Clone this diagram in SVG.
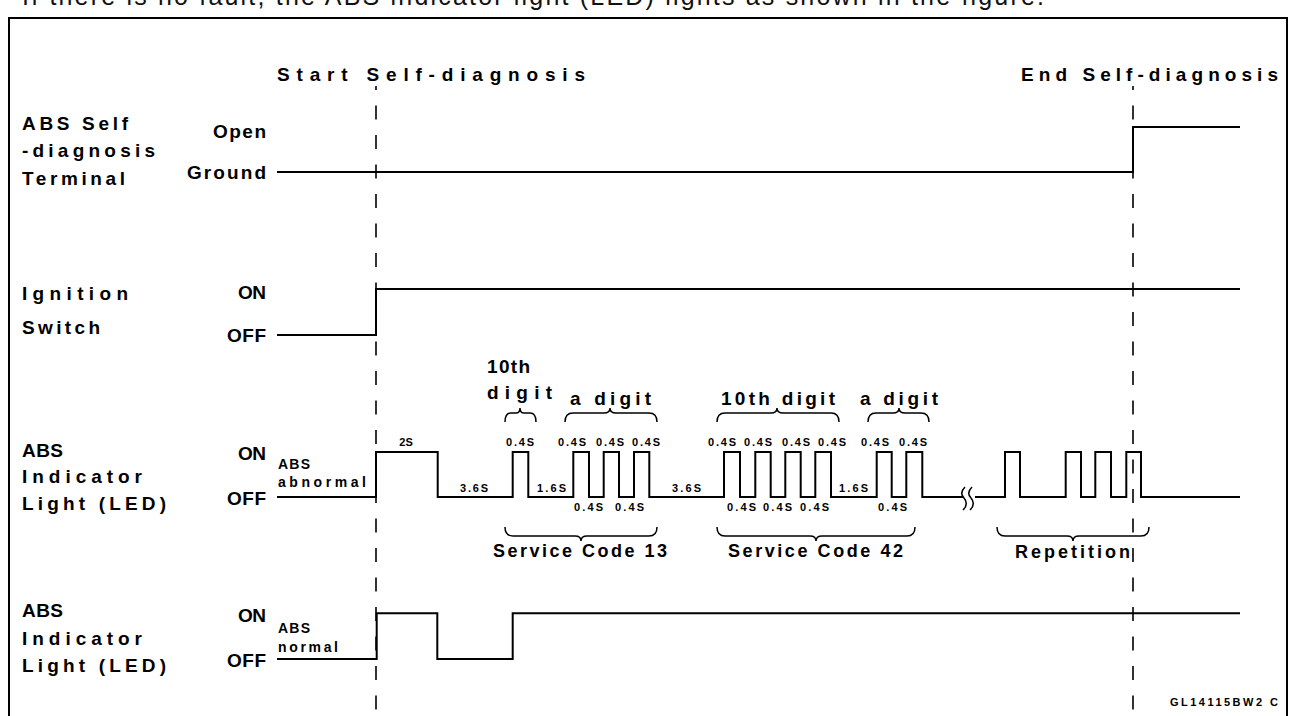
<svg xmlns="http://www.w3.org/2000/svg" width="1290" height="716" viewBox="0 0 1290 716">
<style>
text{font-family:"Liberation Sans",Arial,sans-serif;fill:#000;font-weight:bold}
.lbl{font-size:19px}
.sm{font-size:14px}
.xs{font-size:11px}
.mid{font-size:18px}
.cap{font-size:25px;font-weight:normal;fill:#111}
.sig{fill:none;stroke:#000;stroke-width:2}
.dash{fill:none;stroke:#000;stroke-width:1.6;stroke-dasharray:14 15.5;stroke-dashoffset:10}
.brace{fill:none;stroke:#000;stroke-width:1.5}
</style>
<rect width="1290" height="716" fill="#fff"/>
<text class="cap" x="22" y="5" textLength="1022">If there is no fault, the ABS indicator light (LED) lights as shown in the figure.</text>
<rect x="9" y="18" width="1278" height="720" fill="none" stroke="#000" stroke-width="2"/>

<g id="markers">
<text class="lbl" x="277" y="81" textLength="308">Start Self-diagnosis</text>
<text class="lbl" x="1021" y="81" textLength="257">End Self-diagnosis</text>
<text x="1170" y="706" font-size="11px" textLength="108">GL14115BW2 C</text>
</g>

<g id="connectors">
<line class="dash" x1="376" y1="86" x2="376" y2="716"/>
<line class="dash" x1="1133" y1="86" x2="1133" y2="716"/>
</g>

<g id="row-terminal">
<text class="lbl" x="22" y="130" textLength="106">ABS Self</text>
<text class="lbl" x="22" y="157" textLength="133">-diagnosis</text>
<text class="lbl" x="22" y="185" textLength="103">Terminal</text>
<text class="lbl" x="213" y="138" textLength="53">Open</text>
<text class="lbl" x="187" y="179" textLength="79">Ground</text>
<path class="sig" d="M277,172 H1133 V127 H1240"/>
</g>

<g id="row-ignition">
<text class="lbl" x="22" y="300" textLength="106">Ignition</text>
<text class="lbl" x="22" y="334" textLength="78">Switch</text>
<text class="lbl" x="238" y="299" textLength="28">ON</text>
<text class="lbl" x="227" y="342" textLength="39">OFF</text>
<path class="sig" d="M277,335 H376 V289 H1240"/>
</g>

<g id="row-abnormal">
<text class="lbl" x="22" y="457" textLength="41">ABS</text>
<text class="lbl" x="22" y="483" textLength="120">Indicator</text>
<text class="lbl" x="22" y="510" textLength="144">Light (LED)</text>
<text class="lbl" x="238" y="460" textLength="28">ON</text>
<text class="lbl" x="227" y="505" textLength="39">OFF</text>
<text class="sm" x="278" y="469" textLength="32">ABS</text>
<text class="sm" x="278" y="487" textLength="88">abnormal</text>
<path class="sig" d="M277,497 H376 V452 H437.7 V497 H512.7 V452 H528.3 V497 H573.3 V452 H589 V497 H603.7 V452 H619 V497 H634 V452 H649.3 V497 H724 V452 H740 V497 H755.3 V452 H770.7 V497 H785.3 V452 H800.7 V497 H815.3 V452 H831 V497 H876.7 V452 H891.7 V497 H906.3 V452 H922.3 V497 H963"/>
<path class="sig" d="M975,497 H1005 V452 H1020 V497 H1065.7 V452 H1081 V497 H1095.3 V452 H1111 V497 H1126.3 V452 H1141 V497 H1240"/>
<path class="brace" d="M965,487 Q959,493 964,498 Q969,504 963,510 M972,487 Q966,493 971,498 Q976,504 970,510"/>
<g id="timing">
<text class="xs" x="406" y="446" text-anchor="middle">2S</text>
<text class="xs" x="506" y="446" textLength="28">0.4S</text>
<text class="xs" x="558" y="446" textLength="28">0.4S</text>
<text class="xs" x="596" y="446" textLength="28">0.4S</text>
<text class="xs" x="632" y="446" textLength="28">0.4S</text>
<text class="xs" x="708" y="446" textLength="28">0.4S</text>
<text class="xs" x="744" y="446" textLength="28">0.4S</text>
<text class="xs" x="782" y="446" textLength="28">0.4S</text>
<text class="xs" x="818" y="446" textLength="28">0.4S</text>
<text class="xs" x="861" y="446" textLength="28">0.4S</text>
<text class="xs" x="899" y="446" textLength="28">0.4S</text>
<text class="xs" x="460" y="492" textLength="28">3.6S</text>
<text class="xs" x="537" y="492" textLength="29">1.6S</text>
<text class="xs" x="672" y="492" textLength="29">3.6S</text>
<text class="xs" x="839" y="492" textLength="29">1.6S</text>
<text class="xs" x="574" y="511" textLength="29">0.4S</text>
<text class="xs" x="615" y="511" textLength="29">0.4S</text>
<text class="xs" x="727" y="511" textLength="29">0.4S</text>
<text class="xs" x="763" y="511" textLength="29">0.4S</text>
<text class="xs" x="800" y="511" textLength="29">0.4S</text>
<text class="xs" x="878" y="511" textLength="29">0.4S</text>
</g>
<g id="digit-braces">
<text class="lbl" x="487" y="373" textLength="43">10th</text>
<text class="lbl" x="487" y="399" textLength="65">digit</text>
<text class="lbl" x="570" y="405" textLength="81">a digit</text>
<text class="lbl" x="721" y="405" textLength="114">10th digit</text>
<text class="lbl" x="860" y="405" textLength="78">a digit</text>
<path class="brace" d="M505,422 Q505,413 511,413 L516,413 Q520,413 520,408 Q520,413 524,413 L530,413 Q536,413 536,422"/>
<path class="brace" d="M565,422 Q565,413 573,413 L604,413 Q610,413 610,408 Q610,413 616,413 L649,413 Q657,413 657,422"/>
<path class="brace" d="M717,422 Q717,413 725,413 L771,413 Q777,413 777,408 Q777,413 783,413 L831,413 Q839,413 839,422"/>
<path class="brace" d="M868,422 Q868,413 876,413 L893,413 Q899,413 899,408 Q899,413 905,413 L921,413 Q929,413 929,422"/>
</g>
<g id="code-braces">
<path class="brace" d="M505,527 Q505,536 513,536 L575,536 Q581,536 581,541 Q581,536 587,536 L649,536 Q657,536 657,527"/>
<path class="brace" d="M717,527 Q717,536 725,536 L810,536 Q816,536 816,541 Q816,536 822,536 L907,536 Q915,536 915,527"/>
<path class="brace" d="M997,527 Q997,536 1005,536 L1067,536 Q1073,536 1073,541 Q1073,536 1079,536 L1141,536 Q1149,536 1149,527"/>
<text class="mid" x="493" y="557" textLength="174">Service Code 13</text>
<text class="mid" x="728" y="557" textLength="175">Service Code 42</text>
<text class="mid" x="1015" y="558" textLength="115">Repetition</text>
</g>
</g>

<g id="row-normal">
<text class="lbl" x="22" y="617" textLength="41">ABS</text>
<text class="lbl" x="22" y="645" textLength="120">Indicator</text>
<text class="lbl" x="22" y="672" textLength="144">Light (LED)</text>
<text class="lbl" x="238" y="622" textLength="28">ON</text>
<text class="lbl" x="227" y="667" textLength="39">OFF</text>
<text class="sm" x="278" y="633" textLength="32">ABS</text>
<text class="sm" x="278" y="652" textLength="60">normal</text>
<path class="sig" d="M277,659 H376.7 V613.3 H437.3 V659 H512.7 V613.3 H1240"/>
</g>
</svg>
